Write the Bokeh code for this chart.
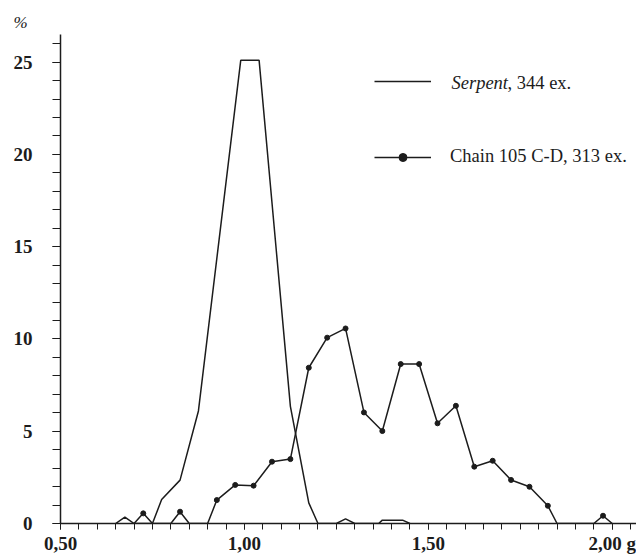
from bokeh.plotting import figure
from bokeh.models import FixedTicker, Legend, LegendItem, Label, Range1d, Title
from bokeh.embed import file_html
from bokeh.resources import INLINE

# ---- data (weight in g, share in %) ----
serpent_g = [0.65, 0.675, 0.70, 0.75, 0.775, 0.825, 0.875, 0.99, 1.04,
             1.125, 1.175, 1.20, 1.25, 1.275, 1.30, 1.365, 1.375, 1.43, 1.45]
serpent_pct = [0, 0.35, 0, 0, 1.3, 2.35, 6.1, 25.1, 25.1,
               6.35, 1.12, 0, 0, 0.25, 0, 0, 0.18, 0.18, 0]

chain_g = [0.725, 0.775, 0.825, 0.875, 0.925, 0.975, 1.025, 1.075, 1.125,
           1.175, 1.225, 1.275, 1.325, 1.375, 1.425, 1.475, 1.525, 1.575,
           1.625, 1.675, 1.725, 1.775, 1.825, 1.875, 1.925, 1.975]
chain_pct = [0.55, 0, 0.64, 0, 1.27, 2.09, 2.05, 3.35, 3.49,
             8.44, 10.07, 10.57, 6.02, 5.01, 8.64, 8.64, 5.43, 6.38,
             3.08, 3.40, 2.36, 1.99, 0.96, 0, 0, 0.42]
half_bin = 0.025

x_major = [0.5, 1.0, 1.5, 2.0]
x_labels = {0.5: "0,50", 1.0: "1,00", 1.5: "1,50", 2.0: "2,00 g"}
x_minor = [0.50, 0.55, 0.60, 0.65, 0.70, 0.75, 0.80, 0.85, 0.90, 0.95, 1.00,
           1.05, 1.10, 1.15, 1.20, 1.25, 1.30, 1.35, 1.40, 1.45, 1.50, 1.55,
           1.60, 1.65, 1.70, 1.75, 1.80, 1.85, 1.90, 1.95, 2.00, 2.05]
y_major = [0, 5, 10, 15, 20, 25]
y_minor = list(range(0, 27))

serpent_label = ("Serpent", ", 344 ex.")
chain_label = "Chain 105 C-D, 313 ex."
y_unit = "%"

# ---- chain polyline: drop to zero at bin edges next to empty bins ----
cx, cy = [], []
for i, (g, v) in enumerate(zip(chain_g, chain_pct)):
    if v > 0:
        if i == 0 or chain_pct[i - 1] == 0:
            cx.append(g - half_bin); cy.append(0)
        cx.append(g); cy.append(v)
        if i == len(chain_g) - 1 or chain_pct[i + 1] == 0:
            cx.append(g + half_bin); cy.append(0)
px = [g for g, v in zip(chain_g, chain_pct) if v > 0]
py = [v for v in chain_pct if v > 0]

FONT = "Liberation Serif"
INK = "#1c1c1c"

p = figure(width=636, height=557, output_backend="svg", toolbar_location=None,
           x_range=Range1d(0.5, 2.066), y_range=Range1d(0, 26.5),
           min_border_left=60, min_border_right=0, min_border_top=34,
           min_border_bottom=34)
p.outline_line_color = None
p.grid.visible = False
p.background_fill_color = "white"

p.add_layout(Title(text=y_unit, align="left", offset=-47, standoff=6,
                   text_font=FONT, text_font_size="17px",
                   text_font_style="italic", text_color=INK), "above")

r_serp = p.line(serpent_g, serpent_pct, line_color=INK, line_width=1.5)
r_chain = p.line(cx, cy, line_color=INK, line_width=1.5)
r_pts = p.scatter(px, py, size=5, fill_color=INK, line_color=INK)

xa = p.xaxis[0]
xa.ticker = FixedTicker(ticks=x_major, minor_ticks=x_minor)
xa.major_label_overrides = x_labels
xa.major_tick_out = 6
xa.major_tick_in = 0
xa.minor_tick_out = 6
xa.minor_tick_in = 0
xa.major_label_standoff = 3
xa.axis_line_width = 1.5
xa.axis_line_color = INK
xa.major_tick_line_color = INK
xa.minor_tick_line_color = INK
xa.major_label_text_font = FONT
xa.major_label_text_font_size = "19px"
xa.major_label_text_font_style = "bold"
xa.major_label_text_color = INK

ya = p.yaxis[0]
ya.ticker = FixedTicker(ticks=y_major, minor_ticks=y_minor)
ya.major_tick_out = 8
ya.major_tick_in = 0
ya.minor_tick_out = 8
ya.minor_tick_in = 0
ya.major_label_standoff = 20
ya.axis_line_width = 1.5
ya.axis_line_color = INK
ya.major_tick_line_color = INK
ya.minor_tick_line_color = INK
ya.major_label_text_font = FONT
ya.major_label_text_font_size = "19px"
ya.major_label_text_font_style = "bold"
ya.major_label_text_color = INK

legend = Legend(items=[LegendItem(label=" ", renderers=[r_serp]),
                       LegendItem(label=chain_label, renderers=[r_chain, r_pts])],
                location=(314, 356), glyph_width=57, glyph_height=20,
                label_height=20, label_standoff=19, spacing=55, padding=0,
                margin=0, border_line_alpha=0, background_fill_alpha=0,
                label_text_font=FONT, label_text_font_size="18.5px",
                label_text_color=INK)
p.add_layout(legend)

p.add_layout(Label(x=391, y=441, x_units="screen", y_units="screen",
                   text=serpent_label[0], text_font=FONT, text_font_size="18.5px",
                   text_font_style="italic", text_baseline="middle",
                   text_color=INK))
p.add_layout(Label(x=447, y=441, x_units="screen", y_units="screen",
                   text=serpent_label[1], text_font=FONT, text_font_size="18.5px",
                   text_baseline="middle", text_color=INK))

open("out.html", "w").write(file_html(p, INLINE))
